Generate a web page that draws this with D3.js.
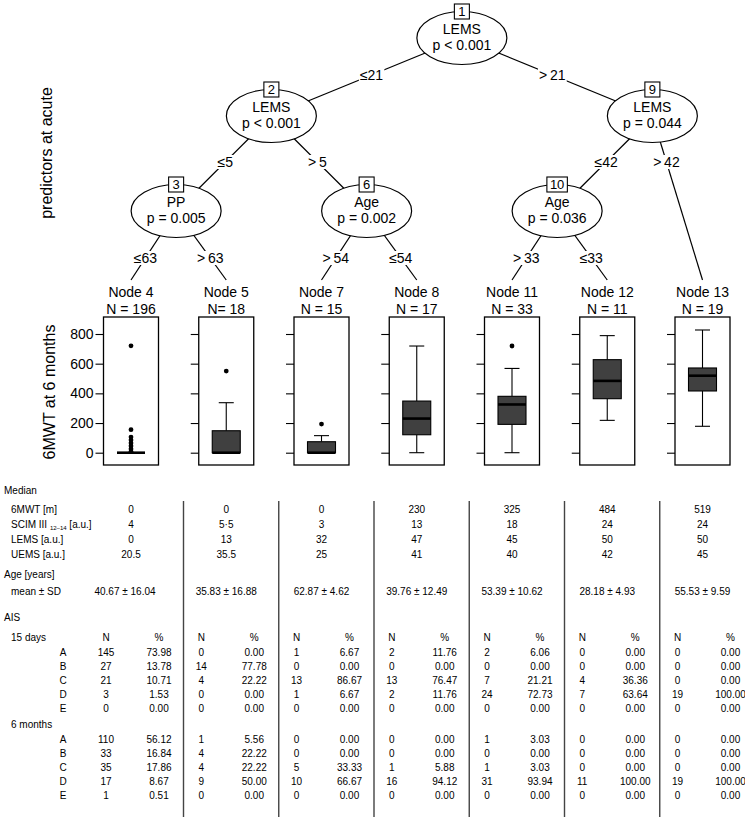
<!DOCTYPE html>
<html><head><meta charset="utf-8">
<script src="https://cdn.jsdelivr.net/npm/d3@7"></script>
<style>
body{margin:0;background:#fff}
svg{display:block}
text{font-family:"Liberation Sans",Arial,Helvetica,sans-serif;fill:#000}
</style>
</head><body>
<svg id="chart" width="745" height="823"></svg>
<script>
// ---------------- DATA ----------------
const innerIds   = [1, 2, 3, 6, 9, 10];
const innerVars  = ["LEMS", "LEMS", "PP", "Age", "LEMS", "Age"];
const innerP     = ["p < 0.001", "p < 0.001", "p = 0.005", "p = 0.002", "p = 0.044", "p = 0.036"];
const edgeFrom   = [1, 1, 2, 2, 3, 3, 6, 6, 9, 9, 10, 10];
const edgeTo     = [2, 9, 3, 6, 4, 5, 7, 8, 10, 13, 11, 12];
const edgeLabels = ["≤21", ">\u200921", "≤5", ">\u20095", "≤63", ">\u200963", ">\u200954", "≤54", "≤42", ">\u200942", ">\u200933", "≤33"];

const terminalIds = [4, 5, 7, 8, 11, 12, 13];
const terminalN   = ["N = 196", "N= 18", "N = 15", "N = 17", "N = 33", "N = 11", "N = 19"];

// 6MWT at 6 months boxplot statistics per terminal node
const whiskerLow  = [0, 0, 0, 0, 0, 218, 178];
const q1          = [0, 0, 0, 121, 191, 364, 416];
const medianVals  = [0, 0, 0, 230, 325, 484, 519];
const q3          = [0, 148, 74, 348, 380, 627, 571];
const whiskerHigh = [0, 337, 115, 719, 568, 789, 827];
const outliers    = [[720, 155, 105, 85, 65, 45, 25, 8], [550], [193], [], [719], [], []];
const yTicks      = [0, 200, 400, 600, 800];

// Table
const med6MWT  = ["0", "0", "0", "230", "325", "484", "519"];
const medSCIM  = ["4", "5·5", "3", "13", "18", "24", "24"];
const medLEMS  = ["0", "13", "32", "47", "45", "50", "50"];
const medUEMS  = ["20.5", "35.5", "25", "41", "40", "42", "45"];
const ageMeanSD = ["40.67 ± 16.04", "35.83 ± 16.88", "62.87 ± 4.62", "39.76 ± 12.49", "53.39 ± 10.62", "28.18 ± 4.93", "55.53 ± 9.59"];
const aisGrades = ["A", "B", "C", "D", "E"];
const ais15N = [[145, 27, 21, 3, 0], [0, 14, 4, 0, 0], [1, 0, 13, 1, 0], [2, 0, 13, 2, 0], [2, 0, 7, 24, 0], [0, 0, 4, 7, 0], [0, 0, 0, 19, 0]];
const ais15P = [["73.98", "13.78", "10.71", "1.53", "0.00"], ["0.00", "77.78", "22.22", "0.00", "0.00"], ["6.67", "0.00", "86.67", "6.67", "0.00"],
                ["11.76", "0.00", "76.47", "11.76", "0.00"], ["6.06", "0.00", "21.21", "72.73", "0.00"], ["0.00", "0.00", "36.36", "63.64", "0.00"],
                ["0.00", "0.00", "0.00", "100.00", "0.00"]];
const ais6N = [[110, 33, 35, 17, 1], [1, 4, 4, 9, 0], [0, 0, 5, 10, 0], [0, 0, 1, 16, 0], [1, 0, 1, 31, 0], [0, 0, 0, 11, 0], [0, 0, 0, 19, 0]];
const ais6P = [["56.12", "16.84", "17.86", "8.67", "0.51"], ["5.56", "22.22", "22.22", "50.00", "0.00"], ["0.00", "0.00", "33.33", "66.67", "0.00"],
               ["0.00", "0.00", "5.88", "94.12", "0.00"], ["3.03", "0.00", "3.03", "93.94", "0.00"], ["0.00", "0.00", "0.00", "100.00", "0.00"],
               ["0.00", "0.00", "0.00", "100.00", "0.00"]];

// ---------------- LAYOUT ----------------
const svg = d3.select("#chart");
const FONT = 14;
const xUnit = d3.scaleLinear().domain([1, 7]).range([131, 702.5]);
const depthY = [38, 116, 211];
const labelY = [75, 162, 258];
const termTop = 280;
const RX = 45, RY = 26.5;

// build tree
const kids = {};
edgeFrom.forEach((f, i) => { (kids[f] = kids[f] || []).push(i); });
const isTerm = id => terminalIds.includes(id);
const width = id => isTerm(id) ? 1 : kids[id].reduce((s, ei) => s + width(edgeTo[ei]), 0);
const pos = {};
(function place(id, lo, depth) {
  if (isTerm(id)) { pos[id] = {u: lo + 0.5, depth}; return; }
  const left = edgeTo[kids[id][0]];
  pos[id] = {u: lo + width(left), depth};
  let cur = lo;
  kids[id].forEach(ei => { const c = edgeTo[ei]; place(c, cur, depth + 1); cur += width(c); });
})(1, 0.5, 0);
const px = id => xUnit(pos[id].u) - (isTerm(id) ? 0 : 2.5);
const py = id => isTerm(id) ? termTop : depthY[pos[id].depth];

// edges
const gE = svg.append("g");
edgeFrom.forEach((f, i) => {
  const t = edgeTo[i];
  const x1 = px(f), y1 = py(f), x2 = px(t), y2 = py(t);
  gE.append("line").attr("x1", x1).attr("y1", y1).attr("x2", x2).attr("y2", y2)
    .attr("stroke", "#000").attr("stroke-width", 1.2);
  const ly = labelY[pos[f].depth];
  const lx = x1 + (x2 - x1) * (ly - y1) / (y2 - y1);
  const tx = gE.append("text").attr("x", lx).attr("y", ly + 5).attr("text-anchor", "middle")
    .attr("font-size", FONT).text(edgeLabels[i]);
  const bb = tx.node().getBBox();
  gE.insert("rect", function(){ return tx.node(); })
    .attr("x", bb.x - 1).attr("y", bb.y + 1).attr("width", bb.width + 2).attr("height", bb.height - 2)
    .attr("fill", "#fff");
});

// inner nodes
innerIds.forEach((id, i) => {
  const x = px(id), y = py(id);
  const g = svg.append("g");
  g.append("ellipse").attr("cx", x).attr("cy", y).attr("rx", RX).attr("ry", RY)
    .attr("fill", "#fff").attr("stroke", "#000").attr("stroke-width", 1.2);
  g.append("text").attr("x", x).attr("y", y - 4.5).attr("text-anchor", "middle").attr("font-size", FONT).text(innerVars[i]);
  g.append("text").attr("x", x).attr("y", y + 11.5).attr("text-anchor", "middle").attr("font-size", FONT).text(innerP[i]);
  const idt = g.append("text").attr("x", x).attr("y", y - RY + 4.5).attr("text-anchor", "middle").attr("font-size", 13).text(id);
  const w = Math.max(15, idt.node().getBBox().width + 6);
  g.insert("rect", function(){ return idt.node(); }).attr("x", x - w / 2).attr("y", y - RY - 7.5).attr("width", w).attr("height", 15)
    .attr("fill", "#fff").attr("stroke", "#000").attr("stroke-width", 1.1);
});

// terminal nodes with boxplots
const yS = d3.scaleLinear().domain([0, 800]).range([452.7, 334]);
const PW = 55, PT = 317, PB = 465, BW = 28, CW = 15;
terminalIds.forEach((id, i) => {
  const x = px(id);
  const g = svg.append("g");
  g.append("text").attr("x", x).attr("y", 297).attr("text-anchor", "middle").attr("font-size", FONT).text("Node " + id);
  g.append("text").attr("x", x).attr("y", 314).attr("text-anchor", "middle").attr("font-size", FONT).text(terminalN[i]);
  g.append("rect").attr("x", x - PW / 2).attr("y", PT).attr("width", PW).attr("height", PB - PT)
    .attr("fill", "#fff").attr("stroke", "#000").attr("stroke-width", 1.3);
  // axis
  const ax = g.append("g").attr("transform", `translate(${x - PW / 2},0)`)
    .call(d3.axisLeft(yS).tickValues(yTicks).tickSize(8).tickFormat(i === 0 ? d3.format("d") : () => ""));
  ax.select(".domain").remove();
  ax.selectAll(".tick line").attr("stroke", "#000").attr("stroke-width", 1.1);
  ax.selectAll(".tick text").attr("font-size", FONT).attr("font-family", "Liberation Sans,Arial,sans-serif").attr("x", -10).attr("fill", "#000");
  // whiskers
  if (whiskerHigh[i] > q3[i]) {
    g.append("line").attr("x1", x).attr("x2", x).attr("y1", yS(q3[i])).attr("y2", yS(whiskerHigh[i])).attr("stroke", "#000").attr("stroke-width", 1.1);
    g.append("line").attr("x1", x - CW / 2).attr("x2", x + CW / 2).attr("y1", yS(whiskerHigh[i])).attr("y2", yS(whiskerHigh[i])).attr("stroke", "#000").attr("stroke-width", 1.1);
  }
  if (whiskerLow[i] < q1[i]) {
    g.append("line").attr("x1", x).attr("x2", x).attr("y1", yS(q1[i])).attr("y2", yS(whiskerLow[i])).attr("stroke", "#000").attr("stroke-width", 1.1);
    g.append("line").attr("x1", x - CW / 2).attr("x2", x + CW / 2).attr("y1", yS(whiskerLow[i])).attr("y2", yS(whiskerLow[i])).attr("stroke", "#000").attr("stroke-width", 1.1);
  }
  if (q3[i] > q1[i]) {
    g.append("rect").attr("x", x - BW / 2).attr("y", yS(q3[i])).attr("width", BW).attr("height", yS(q1[i]) - yS(q3[i]))
      .attr("fill", "#404040").attr("stroke", "#000").attr("stroke-width", 1.1);
  }
  g.append("line").attr("x1", x - BW / 2).attr("x2", x + BW / 2).attr("y1", yS(medianVals[i])).attr("y2", yS(medianVals[i]))
    .attr("stroke", "#000").attr("stroke-width", 2.6);
  outliers[i].forEach(v => g.append("circle").attr("cx", x).attr("cy", yS(v)).attr("r", 2.4).attr("fill", "#000"));
});

// axis titles
svg.append("text").attr("transform", "translate(55,392) rotate(-90)").attr("text-anchor", "middle").attr("font-size", 16).text("6MWT at 6 months");
svg.append("text").attr("transform", "translate(52,153) rotate(-90)").attr("text-anchor", "middle").attr("font-size", 16).text("predictors at acute");

// ---------------- TABLE ----------------
const gT = svg.append("g").attr("font-size", 10);
const TF = 10;
const base = y => y + 3.5;
const colC = i => xUnit(i + 1);
const sepX = i => colC(i) + 52.5;
for (let i = 0; i < 6; i++) {
  gT.append("line").attr("x1", sepX(i)).attr("x2", sepX(i)).attr("y1", 501).attr("y2", 817).attr("stroke", "#444").attr("stroke-width", 1.4);
}
const lbl = (x, y, t) => gT.append("text").attr("x", x).attr("y", base(y)).attr("font-size", TF).text(t);
const ctr = (x, y, t) => gT.append("text").attr("x", x).attr("y", base(y)).attr("font-size", TF).attr("text-anchor", "middle").text(t);

lbl(4, 490, "Median");
lbl(11, 509, "6MWT [m]");
const sc = gT.append("text").attr("x", 11).attr("y", base(524)).attr("font-size", TF);
sc.append("tspan").text("SCIM III ");
sc.append("tspan").attr("font-size", 6).attr("dy", 2).text("12–14");
sc.append("tspan").attr("dy", -2).text(" [a.u.]");
lbl(11, 539, "LEMS [a.u.]");
lbl(11, 554, "UEMS [a.u.]");
lbl(4, 574, "Age [years]");
lbl(11, 591, "mean ± SD");
lbl(4, 617, "AIS");
lbl(11, 637, "15 days");
lbl(11, 724, "6 months");

const rows15 = [652, 666, 680, 694, 708];
const rows6 = [739, 753, 767, 781, 795];
aisGrades.forEach((gr, k) => { ctr(63, rows15[k], gr); ctr(63, rows6[k], gr); });

for (let i = 0; i < 7; i++) {
  const c = colC(i);
  ctr(c, 509, med6MWT[i]);
  ctr(c, 524, medSCIM[i]);
  ctr(c, 539, medLEMS[i]);
  ctr(c, 554, medUEMS[i]);
  ctr(c - (i === 0 ? 6 : 0), 591, ageMeanSD[i]);
  const nx = c - 25, pxp = c + 28;
  ctr(nx, 637, "N");
  ctr(pxp, 637, "%");
  aisGrades.forEach((gr, k) => {
    ctr(nx, rows15[k], ais15N[i][k]);
    ctr(pxp, rows15[k], ais15P[i][k]);
    ctr(nx, rows6[k], ais6N[i][k]);
    ctr(pxp, rows6[k], ais6P[i][k]);
  });
}
</script>
</body></html>
